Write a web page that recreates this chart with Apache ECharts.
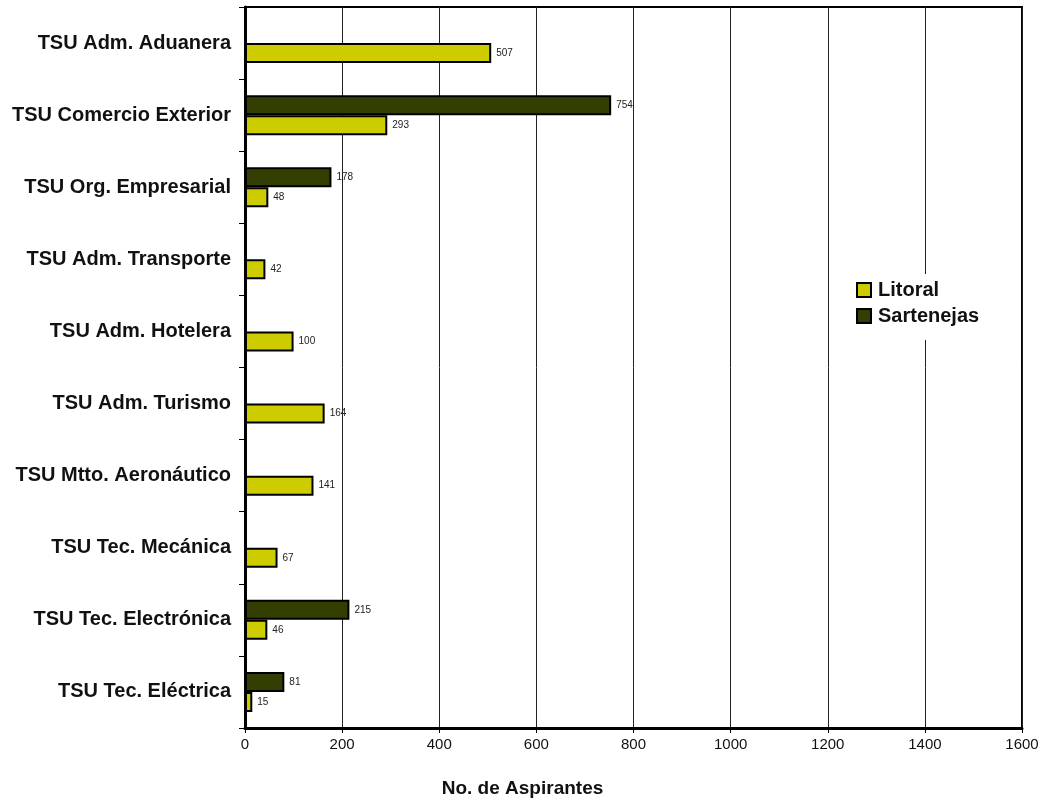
<!DOCTYPE html>
<html><head><meta charset="utf-8">
<script src="https://cdn.jsdelivr.net/npm/echarts@6/dist/echarts.min.js"></script>
<style>html,body{margin:0;padding:0;background:#fff}#c{width:1045px;height:802px}</style>
</head><body><div id="c"></div>
<script>
const categories = ['TSU Adm. Aduanera','TSU Comercio Exterior','TSU Org. Empresarial','TSU Adm. Transporte','TSU Adm. Hotelera','TSU Adm. Turismo','TSU Mtto. Aeronáutico','TSU Tec. Mecánica','TSU Tec. Electrónica','TSU Tec. Eléctrica'];
const litoral = [507,293,48,42,100,164,141,67,46,15];
const sartenejas = [null,754,178,null,null,null,null,null,215,81];
const xTicks = {min:0,max:1600,interval:200};

const FONT = '"Liberation Sans", Arial, sans-serif';
const chart = echarts.init(document.getElementById('c'));
const labelCfg = {show:true, position:'right', distance:5, color:'#222', fontSize:10, fontFamily:FONT};
chart.setOption({
  animation:false,
  title:{text:'No. de Aspirantes', left:'center', top:779, padding:0, textStyle:{fontFamily:FONT,fontWeight:'bold',fontSize:19,color:'#111'}},
  grid:{left:245, right:23, top:7, bottom:74, show:true, borderColor:'#000', borderWidth:2, backgroundColor:'#fff'},
  legend:{data:['Litoral','Sartenejas'], orient:'vertical', left:846, top:274, padding:[6,10,14,10], backgroundColor:'#fff', itemWidth:14, itemHeight:14, itemGap:6, icon:'rect',
    textStyle:{fontFamily:FONT,fontWeight:'bold',fontSize:20,color:'#111',padding:[0,0,0,2]}},
  xAxis:{type:'value', min:xTicks.min, max:xTicks.max, interval:xTicks.interval,
    axisLine:{show:true,lineStyle:{color:'#000',width:3}},
    axisTick:{show:true,length:5,lineStyle:{color:'#000',width:1}},
    axisLabel:{fontFamily:FONT,fontSize:15,color:'#111',margin:9,formatter:v=>String(v)},
    splitLine:{show:true,lineStyle:{color:'#222',width:1}}},
  yAxis:{type:'category', data:categories, inverse:true,
    axisLine:{show:true,lineStyle:{color:'#000',width:3}},
    axisTick:{show:true,length:6,lineStyle:{color:'#000',width:1}},
    axisLabel:{fontFamily:FONT,fontSize:20,fontWeight:'bold',color:'#111',margin:14}},
  series:[
    {name:'Sartenejas', type:'bar', data:sartenejas, barWidth:20, barGap:'0%',
      itemStyle:{color:'#333f00',borderColor:'#000',borderWidth:2}, label:labelCfg},
    {name:'Litoral', type:'bar', data:litoral, barWidth:20, barGap:'0%',
      itemStyle:{color:'#cccc00',borderColor:'#000',borderWidth:2}, label:labelCfg}
  ]
});
</script></body></html>
